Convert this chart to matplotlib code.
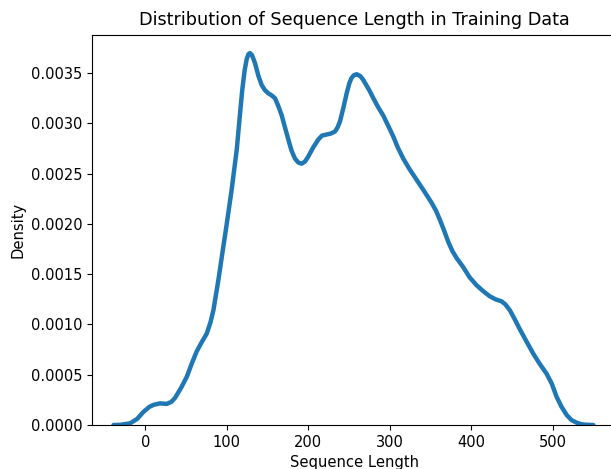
import matplotlib
matplotlib.use("Agg")
import matplotlib.pyplot as plt

# Sequence length values (x) and KDE density values (y, in units of 1e-3)
seq_length = [-39, -30, -18.6, -10, -2.3, 5, 10, 18, 26.4, 32, 36.6, 44, 51, 57, 63, 69,
              75.5, 80, 83.6, 89.7, 95, 100, 106, 112.3, 116, 119, 122, 124.5, 126.7, 128.6,
              131, 134.7, 139, 143, 147, 151, 155, 159.3, 163, 167.5, 171.5, 175.6, 179.5,
              183.8, 188, 192, 196, 200, 206, 212.4, 217, 222.7, 228, 232.9, 236, 239, 243,
              247.2, 250.5, 253, 256, 259.5, 262, 264, 267, 270, 275, 280, 286, 292, 298,
              304.4, 310, 316.7, 324, 333, 342, 351.5, 357, 361.7, 367, 372, 377, 382.2,
              390.3, 398, 406.7, 415, 423, 430, 437.4, 442, 447.6, 453, 459.9, 468, 476.2,
              484, 492.6, 499, 504.9, 511, 517.2, 523, 529.4, 535, 540, 550]
density_e3 = [0.0, 0.002, 0.017, 0.06, 0.13, 0.18, 0.20, 0.215, 0.21, 0.23, 0.27, 0.37,
              0.48, 0.61, 0.73, 0.82, 0.91, 1.02, 1.14, 1.44, 1.73, 2.0, 2.34, 2.74, 3.07,
              3.33, 3.53, 3.64, 3.69, 3.70, 3.68, 3.60, 3.47, 3.38, 3.33, 3.30, 3.28, 3.25,
              3.18, 3.08, 2.96, 2.84, 2.73, 2.65, 2.61, 2.60, 2.62, 2.67, 2.76, 2.84, 2.88,
              2.89, 2.90, 2.92, 2.96, 3.02, 3.15, 3.30, 3.40, 3.45, 3.48, 3.49, 3.48, 3.47,
              3.44, 3.40, 3.33, 3.25, 3.16, 3.08, 2.98, 2.87, 2.76, 2.65, 2.55, 2.44, 2.33,
              2.21, 2.13, 2.04, 1.93, 1.82, 1.73, 1.66, 1.57, 1.47, 1.39, 1.33, 1.28, 1.25,
              1.23, 1.20, 1.14, 1.06, 0.95, 0.83, 0.71, 0.61, 0.51, 0.41, 0.28, 0.18, 0.10,
              0.05, 0.023, 0.008, 0.003, 0.0]
density = [v * 1e-3 for v in density_e3]

title = "Distribution of Sequence Length in Training Data"
xlabel = "Sequence Length"
ylabel = "Density"
yticks = [0.0, 0.0005, 0.0010, 0.0015, 0.0020, 0.0025, 0.0030, 0.0035]
xticks = [0, 100, 200, 300, 400, 500]

fig = plt.figure(figsize=(6.11, 4.69), dpi=100)
ax = fig.add_axes([92.3 / 611, 44 / 469, 524.7 / 611, 390 / 469])
ax.plot(seq_length, density, color="#1f77b4", linewidth=3.2,
        solid_joinstyle="round", solid_capstyle="round")
ax.set_xlim(-65, 579)
ax.set_ylim(0, 0.00388)
ax.set_xticks(xticks)
ax.set_yticks(yticks)
ax.set_yticklabels([f"{t:.4f}" for t in yticks])
ax.tick_params(labelsize=10.5)
ax.set_title(title, fontsize=12.7, pad=7)
ax.set_xlabel(xlabel, fontsize=10.6)
ax.set_ylabel(ylabel, fontsize=10.6)
fig.savefig("out.png", dpi=100)
